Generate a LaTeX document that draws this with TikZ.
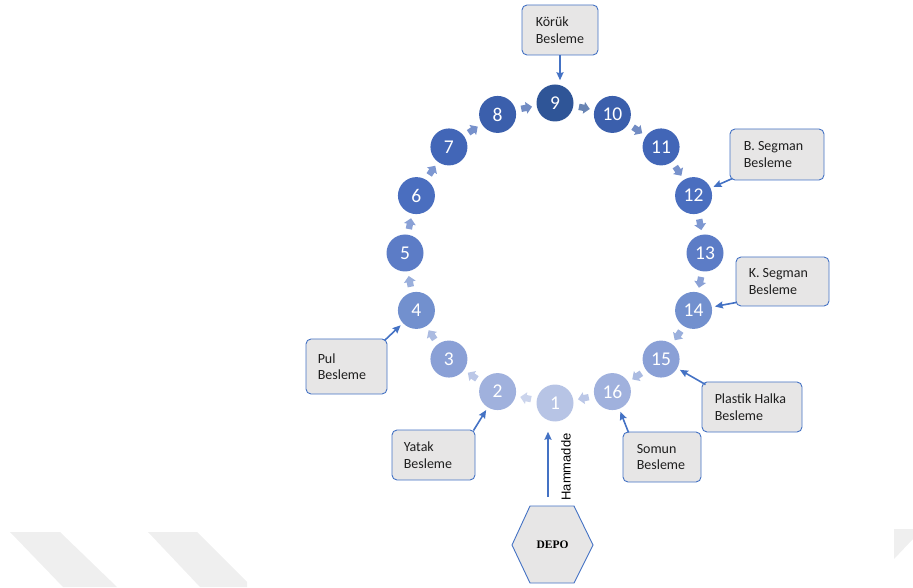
\documentclass[tikz,border=0pt]{standalone}
\usepackage{fontspec}
\setmainfont{Carlito}
\newfontfamily\hamfont{Liberation Sans}
\newfontfamily\depofont{Liberation Serif}
\usetikzlibrary{calc,arrows.meta}

\definecolor{accent}{HTML}{4472C4}
\definecolor{boxfill}{HTML}{E7E6E6}
\definecolor{stripe}{HTML}{EFEFEF}
% ring shades, darkest at station 9
\definecolor{c0}{HTML}{2F5597}
\definecolor{c1}{HTML}{3B5FAC}
\definecolor{c2}{HTML}{4266B7}
\definecolor{c3}{HTML}{4A6EBF}
\definecolor{c4}{HTML}{5C7CC6}
\definecolor{c5}{HTML}{7290CE}
\definecolor{c6}{HTML}{8AA0D6}
\definecolor{c7}{HTML}{A0B1DD}
\definecolor{c8}{HTML}{B7C4E5}

\begin{document}
\begin{tikzpicture}[x=1pt,y=1pt,
  ringnode/.style={circle, minimum size=37pt, inner sep=0pt, text=white,
    font=\fontsize{19.5}{19.5}\selectfont},
  callout/.style={draw=accent, fill=boxfill, rounded corners=5pt,
    line width=0.9pt, inner sep=0pt},
  calltext/.style={anchor=west, align=left, inner sep=0pt, text=black!88,
    font=\fontsize{14}{16.5}\selectfont},
  feed/.style={draw=accent, line width=1.6pt,
    -{Stealth[length=8pt,width=7pt,inset=1pt]}, shorten >=3pt},
]
\useasboundingbox (0,0) rectangle (913,587);

% faint background stripes
\fill[stripe] (10,55) -- (60,55) -- (117,0) -- (63,0) -- cycle;
\fill[stripe] (148,55) -- (197,55) -- (247,5) -- (247,0) -- (200,0) -- cycle;
\fill[stripe] (894,58) -- (913,58) -- (913,48) -- (894,28) -- cycle;

% ring of stations
\coordinate (ctr) at (555,334);
\foreach \k in {1,...,16}{
  \pgfmathtruncatemacro\d{abs(\k-9)}
  \node[ringnode, fill=c\d] (n\k) at ($(ctr)+({-90-(\k-1)*22.5}:150)$) {\k};
}
% small flow arrows between neighbouring stations
\foreach \k in {1,...,16}{
  \pgfmathtruncatemacro\d{abs(\k-9)}
  \pgfmathsetmacro\ang{-90-(\k-0.5)*22.5}
  \begin{scope}[shift={($(ctr)+(\ang:148)$)}, rotate=\ang-90]
    \fill[c\d!72!white] (-5,-3.2) -- (0,-3.2) -- (0,-6) -- (6,0) -- (0,6)
      -- (0,3.2) -- (-5,3.2) -- cycle;
  \end{scope}
}

% feeder boxes
\node[callout, minimum width=76pt, minimum height=50pt] (kb) at (560,557) {};
\node[calltext] (kbt) at ($(kb.west)+(14,0)$) {Körük\\Besleme};
\node[callout, minimum width=94pt, minimum height=51pt] (bs) at (777,432.5) {};
\node[calltext] (bst) at ($(bs.west)+(14,0)$) {B. Segman\\Besleme};
\node[callout, minimum width=93pt, minimum height=49pt] (ks) at (782.5,305.5) {};
\node[calltext] (kst) at ($(ks.west)+(13,0)$) {K. Segman\\Besleme};
\node[callout, minimum width=100pt, minimum height=50pt] (ph) at (752,180) {};
\node[calltext] (pht) at ($(ph.west)+(13,0)$) {Plastik Halka\\Besleme};
\node[callout, minimum width=78pt, minimum height=50pt] (sm) at (662,130) {};
\node[calltext] (smt) at ($(sm.west)+(14,0)$) {Somun\\Besleme};
\node[callout, minimum width=81pt, minimum height=55pt] (pl) at (346.5,220.5) {};
\node[calltext] (plt) at ($(pl.west)+(12,0)$) {Pul\\Besleme};
\node[callout, minimum width=83pt, minimum height=50pt] (yt) at (433.5,132) {};
\node[calltext] (ytt) at ($(yt.west)+(12,0)$) {Yatak\\Besleme};

% feed connectors
\draw[feed, shorten >=4pt] (kb.south) -- (kb.south |- n9.north);
\draw[feed] ($(bs.south west)+(3,2)$) -- (n12);
\draw[feed] ($(ks.south west)+(1,4)$) -- (n14);
\draw[feed] ($(ph.north west)+(4,-3)$) -- (n15);
\draw[feed] ($(sm.north west)+(6,-1)$) -- (n16);
\draw[feed] ($(pl.north east)+(-3,-2)$) -- (n4);
\draw[feed] ($(yt.north east)+(-2,-1)$) -- (n2);

% raw material store
\draw[accent, fill=boxfill, line width=0.9pt]
  (530,81) -- (574,81) -- (593,42) -- (574,4) -- (530,4) -- (512,42) -- cycle;
\node[font=\depofont\bfseries\fontsize{11.5}{12}\selectfont] (depo) at (552.5,42) {DEPO};
\coordinate (hstart) at (548,90);
\draw[feed, shorten >=10pt] (hstart) -- (hstart |- n1.south);
\node[rotate=90, font=\hamfont\fontsize{13}{13}\selectfont] (ham) at (566,120) {Hammadde};
\end{tikzpicture}
\end{document}
